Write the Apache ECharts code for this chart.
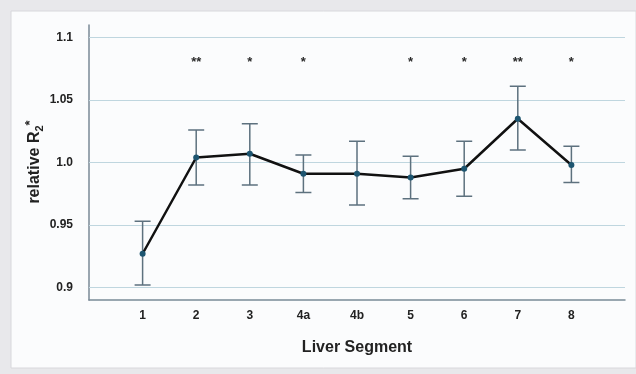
<!DOCTYPE html>
<html>
<head>
<meta charset="utf-8">
<script src="https://cdn.jsdelivr.net/npm/echarts@6/dist/echarts.min.js"></script>
<style>
  html, body { margin: 0; padding: 0; background: #e8e8eb; }
  #chart { width: 636px; height: 374px; }
</style>
</head>
<body>
<div id="chart"></div>
<script>
// liver segments and relative R2* (mean with error bar ends)
var segments = ['1', '2', '3', '4a', '4b', '5', '6', '7', '8'];
var means = [0.927, 1.004, 1.007, 0.991, 0.991, 0.988, 0.995, 1.035, 0.998];
var upper = [0.953, 1.026, 1.031, 1.006, 1.017, 1.005, 1.017, 1.061, 1.013];
var lower = [0.902, 0.982, 0.982, 0.976, 0.966, 0.971, 0.973, 1.010, 0.984];
var stars = ['', '**', '*', '*', '', '*', '*', '**', '*'];
var starLevel = 1.080;
var yTicks = [0.9, 0.95, 1.0, 1.05, 1.1];
var yTickLabels = ['0.9', '0.95', '1.0', '1.05', '1.1'];

// one empty slot on each side of the segments
var categories = [''].concat(segments, ['']);

var font = "'Liberation Sans', Arial, sans-serif";

var chart = echarts.init(document.getElementById('chart'));

var lineData = [], barData = [], starData = [];
for (var i = 0; i < segments.length; i++) {
    lineData.push([segments[i], means[i]]);
    barData.push([segments[i], lower[i], upper[i]]);
    starData.push([segments[i], starLevel, stars[i]]);
}

chart.setOption({
    animation: false,
    backgroundColor: '#e8e8eb',
    graphic: [{
        type: 'rect',
        z: -10,
        shape: { x: 11, y: 11, width: 625, height: 357 },
        style: { fill: '#fbfcfd', stroke: '#d8d8dc', lineWidth: 1 }
    }, {
        // y axis title, placed by hand so it sits close to the tick labels
        type: 'text',
        x: 35,
        y: 162,
        rotation: Math.PI / 2,
        style: {
            text: '{a|relative R}{b|2}{c|*}',
            align: 'center',
            verticalAlign: 'middle',
            rich: {
                a: { fontFamily: font, fontSize: 16, fontWeight: 'bold', fill: '#222' },
                b: { fontFamily: font, fontSize: 11, fontWeight: 'bold', fill: '#222', padding: [9, 0, 0, 0] },
                c: { fontFamily: font, fontSize: 13, fontWeight: 'bold', fill: '#222', padding: [0, 0, 9, 0] }
            }
        }
    }],
    grid: { left: 89, right: 11, top: 25, bottom: 74 },
    xAxis: {
        type: 'category',
        data: categories,
        boundaryGap: false,
        name: 'Liver Segment',
        nameLocation: 'middle',
        nameGap: 40,
        nameTextStyle: { fontFamily: font, fontSize: 16, fontWeight: 'bold', color: '#222' },
        axisLine: { lineStyle: { color: '#7a8a96', width: 1.5 } },
        axisTick: { show: false },
        axisLabel: { interval: 0, margin: 10, fontFamily: font, fontSize: 12, fontWeight: 'bold', color: '#222' },
        splitLine: { show: false }
    },
    yAxis: {
        type: 'value',
        min: 0.89,
        max: 1.11,
        interval: 0.01,
        axisLine: { show: true, lineStyle: { color: '#7a8a96', width: 1.5 } },
        axisTick: { show: false },
        axisLabel: {
            margin: 16,
            fontFamily: font, fontSize: 12, fontWeight: 'bold', color: '#222',
            formatter: function (v) {
                for (var k = 0; k < yTicks.length; k++) {
                    if (Math.abs(v - yTicks[k]) < 1e-6) return yTickLabels[k];
                }
                return '';
            }
        },
        splitLine: { show: false }
    },
    series: [
        {
            type: 'line',
            data: lineData,
            z: 3,
            symbol: 'circle',
            symbolSize: 6,
            itemStyle: { color: '#1d5570' },
            lineStyle: { color: '#111', width: 2.5 },
            markLine: {
                silent: true,
                symbol: 'none',
                z: 1,
                label: { show: false },
                lineStyle: { color: '#bfd6df', width: 1, type: 'solid' },
                data: yTicks.map(function (t) { return { yAxis: t }; })
            }
        },
        {
            type: 'custom',
            z: 2,
            data: barData,
            renderItem: function (params, api) {
                var x = api.value(0);
                var lo = api.coord([x, api.value(1)]);
                var hi = api.coord([x, api.value(2)]);
                var half = 8;
                var style = { stroke: '#5d717e', lineWidth: 1.5 };
                return {
                    type: 'group',
                    children: [
                        { type: 'line', shape: { x1: lo[0], y1: lo[1], x2: hi[0], y2: hi[1] }, style: style },
                        { type: 'line', shape: { x1: hi[0] - half, y1: hi[1], x2: hi[0] + half, y2: hi[1] }, style: style },
                        { type: 'line', shape: { x1: lo[0] - half, y1: lo[1], x2: lo[0] + half, y2: lo[1] }, style: style }
                    ]
                };
            }
        },
        {
            type: 'custom',
            z: 2,
            data: starData,
            renderItem: function (params, api) {
                var p = api.coord([api.value(0), api.value(1)]);
                return {
                    type: 'text',
                    x: p[0],
                    y: p[1],
                    style: {
                        text: stars[params.dataIndex],
                        align: 'center',
                        verticalAlign: 'middle',
                        fontFamily: font,
                        fontSize: 13,
                        fontWeight: 'bold',
                        fill: '#2a2a2a'
                    }
                };
            }
        }
    ]
});
</script>
</body>
</html>
